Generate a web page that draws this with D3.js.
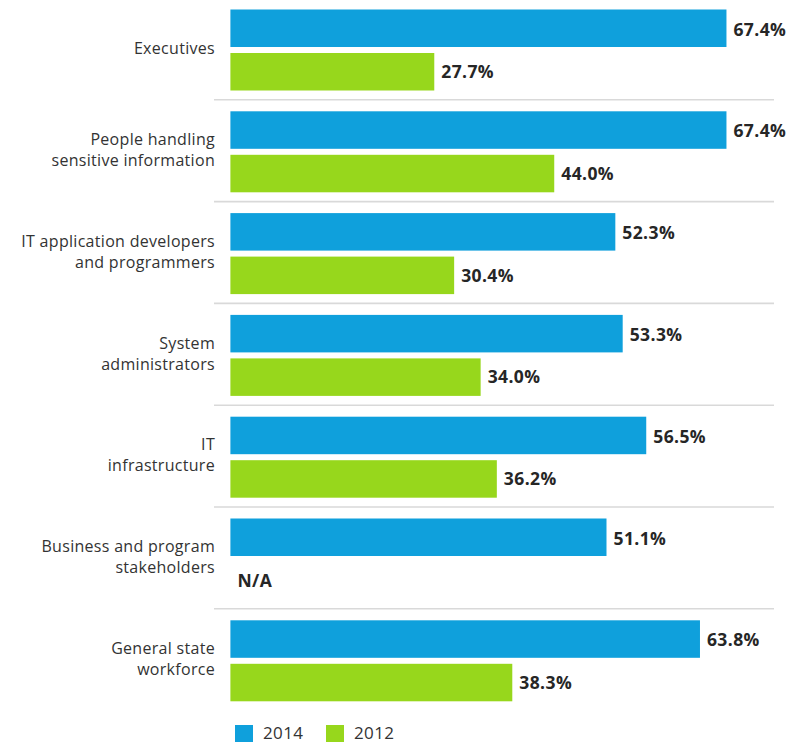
<!DOCTYPE html>
<html>
<head>
<meta charset="utf-8">
<script src="https://cdn.jsdelivr.net/npm/d3@7"></script>
<style>
  html, body { margin: 0; padding: 0; background: #fff; }
  svg { display: block; }
  text { font-family: "Open Sans", "Noto Sans", sans-serif; }
</style>
</head>
<body>
<svg id="chart" width="790" height="742"></svg>
<script>
// ---- data ----
const categories = [
  ["Executives"],
  ["People handling", "sensitive information"],
  ["IT application developers", "and programmers"],
  ["System", "administrators"],
  ["IT", "infrastructure"],
  ["Business and program", "stakeholders"],
  ["General state", "workforce"]
];
const values2014 = [67.4, 67.4, 52.3, 53.3, 56.5, 51.1, 63.8];
const values2012 = [27.7, 44.0, 30.4, 34.0, 36.2, null, 38.3];
const seriesNames = ["2014", "2012"];
const naLabel = "N/A";

// ---- layout ----
const colors = {"2014": "#0fa0dc", "2012": "#97d71c"};
const svg = d3.select("#chart");

const x = d3.scaleLinear().domain([0, 100]).range([230.4, 966.4]);
const y = d3.scaleBand().domain(d3.range(categories.length)).range([-1, -1 + 7 * 101.8]).paddingInner(0).paddingOuter(0);
const barH = 37.5, barOff = 10.5, gap = 6;

// separators
svg.append("g").selectAll("line")
  .data(d3.range(1, categories.length))
  .join("line")
  .attr("x1", 214).attr("x2", 774)
  .attr("y1", d => y(d) - 1).attr("y2", d => y(d) - 1)
  .attr("stroke", "#d9d9d9").attr("stroke-width", 1.6);

const rows = categories.map((c, i) => ({i, lines: c, v14: values2014[i], v12: values2012[i]}));

const g = svg.append("g");
// 2014 bars
g.selectAll("rect.b14").data(rows).join("rect").attr("class", "b14")
  .attr("x", x(0)).attr("y", d => y(d.i) + barOff)
  .attr("width", d => x(d.v14) - x(0)).attr("height", barH)
  .attr("fill", colors["2014"]);
// 2012 bars
g.selectAll("rect.b12").data(rows.filter(d => d.v12 != null)).join("rect").attr("class", "b12")
  .attr("x", x(0)).attr("y", d => y(d.i) + barOff + barH + gap)
  .attr("width", d => x(d.v12) - x(0)).attr("height", barH)
  .attr("fill", colors["2012"]);

const valStyle = sel => sel.attr("font-size", 17.5).attr("font-weight", 700)
  .attr("letter-spacing", 0.4).attr("fill", "#262626");
g.selectAll("text.v14").data(rows).join("text").attr("class", "v14")
  .attr("x", d => x(d.v14) + 7).attr("y", d => y(d.i) + barOff + barH / 2 + 1)
  .attr("dy", "0.36em").text(d => d.v14.toFixed(1) + "%").call(valStyle);
g.selectAll("text.v12").data(rows).join("text").attr("class", "v12")
  .attr("x", d => d.v12 == null ? x(0) + 7 : x(d.v12) + 7)
  .attr("y", d => y(d.i) + barOff + barH + gap + barH / 2)
  .attr("dy", "0.36em").text(d => d.v12 == null ? naLabel : d.v12.toFixed(1) + "%").call(valStyle);

// category labels
const lab = g.selectAll("text.cat").data(rows).join("text").attr("class", "cat")
  .attr("text-anchor", "end").attr("font-size", 16).attr("letter-spacing", 0.3)
  .attr("fill", "#333").attr("x", 215);
lab.each(function(d) {
  const cy = y(d.i) + barOff + barH + gap / 2 - 2;
  const n = d.lines.length, lh = 21;
  d3.select(this).selectAll("tspan").data(d.lines).join("tspan")
    .attr("x", 215)
    .attr("y", (t, k) => cy + (k - (n - 1) / 2) * lh)
    .attr("dy", "0.35em")
    .text(t => t);
});

// legend
const leg = svg.append("g");
const legX = [235, 326];
seriesNames.forEach((s, k) => {
  leg.append("rect").attr("x", legX[k]).attr("y", 725).attr("width", 18).attr("height", 18).attr("fill", colors[s]);
  leg.append("text").attr("x", legX[k] + 28).attr("y", 739).attr("font-size", 17)
    .attr("letter-spacing", 0.4).attr("fill", "#333").text(s);
});
</script>
</body>
</html>
